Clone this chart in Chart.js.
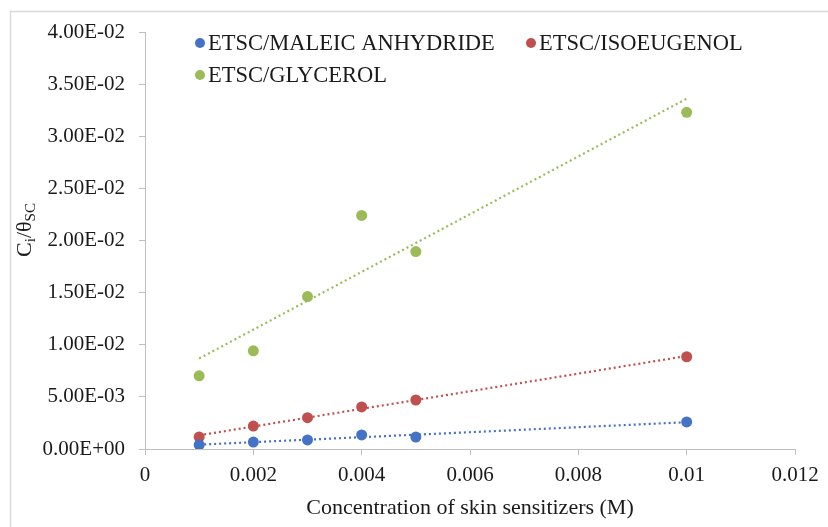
<!DOCTYPE html>
<html>
<head>
<meta charset="utf-8">
<script src="https://cdn.jsdelivr.net/npm/chart.js@4"></script>
<style>
  html, body { margin: 0; padding: 0; background: #fff; }
  #wrap { width: 828px; height: 527px; position: relative; }
</style>
</head>
<body>
<div id="wrap"><canvas id="c" width="828" height="527"></canvas></div>
<script>
// ---- data ----
const concentrations = [0.001, 0.002, 0.003, 0.004, 0.005, 0.01];
const maleicAnhydride = [0.00040, 0.00067, 0.00087, 0.00135, 0.00115, 0.00260];
const isoeugenol      = [0.00115, 0.00220, 0.00300, 0.00404, 0.00470, 0.00885];
const glycerol        = [0.00702, 0.00942, 0.01462, 0.02240, 0.01894, 0.03230];
const seriesNames = ['ETSC/MALEIC ANHYDRIDE', 'ETSC/ISOEUGENOL', 'ETSC/GLYCEROL'];
const xTicks = [0, 0.002, 0.004, 0.006, 0.008, 0.01, 0.012];
const yTicks = [0, 0.005, 0.01, 0.015, 0.02, 0.025, 0.03, 0.035, 0.04];
const xTitle = 'Concentration of skin sensitizers (M)';

const colors = ['#4472C4', '#C0504D', '#9BBB59'];
const FONT = '"Liberation Serif", "Times New Roman", serif';

function pts(ys) { return concentrations.map((x, i) => ({ x: x, y: ys[i] })); }
// Linear least-squares trendline (as Excel's linear trendline)
function trend(ys) {
  const n = concentrations.length;
  const mx = concentrations.reduce((a, b) => a + b, 0) / n;
  const my = ys.reduce((a, b) => a + b, 0) / n;
  let sxy = 0, sxx = 0;
  for (let i = 0; i < n; i++) {
    sxy += (concentrations[i] - mx) * (ys[i] - my);
    sxx += (concentrations[i] - mx) ** 2;
  }
  const b = sxy / sxx, a = my - b * mx;
  const x0 = Math.min(...concentrations), x1 = Math.max(...concentrations);
  return [{ x: x0, y: a + b * x0 }, { x: x1, y: a + b * x1 }];
}

const allSeries = [maleicAnhydride, isoeugenol, glycerol];
const datasets = [];
allSeries.forEach((ys, i) => {
  datasets.push({
    label: seriesNames[i], data: pts(ys), showLine: false,
    pointRadius: 5.5, pointHoverRadius: 5.5,
    backgroundColor: colors[i], borderColor: colors[i], borderWidth: 0, order: 0
  });
});
allSeries.forEach((ys, i) => {
  datasets.push({
    label: seriesNames[i] + ' trend', data: trend(ys), showLine: true,
    pointRadius: 0, borderColor: colors[i], borderWidth: 2.2,
    borderDash: [2, 3], fill: false, order: 1
  });
});

function fmtExp(v) {
  if (Math.abs(v) < 1e-12) return '0.00E+00';
  const s = v.toExponential(2).toUpperCase();
  const m = s.match(/^(-?[\d.]+)E([+-])(\d+)$/);
  return m[1] + 'E' + m[2] + m[3].padStart(2, '0');
}

const decor = {
  id: 'decor',
  beforeDraw(chart) {
    const ctx = chart.ctx;
    ctx.save();
    ctx.strokeStyle = '#d9d9d9';
    ctx.lineWidth = 1.5;
    ctx.beginPath();
    ctx.moveTo(10.5, 527);
    ctx.lineTo(10.5, 11.5);
    ctx.lineTo(828, 11.5);
    ctx.stroke();
    ctx.restore();
  },
  afterDraw(chart) {
    const ctx = chart.ctx;
    ctx.save();
    // legend
    const items = [
      { x: 200, y: 43 }, { x: 531, y: 43 }, { x: 200, y: 75 }
    ];
    ctx.font = '22.5px ' + FONT;
    ctx.textBaseline = 'middle';
    ctx.textAlign = 'left';
    items.forEach((p, i) => {
      ctx.fillStyle = colors[i];
      ctx.beginPath();
      ctx.arc(p.x, p.y, 5, 0, Math.PI * 2);
      ctx.fill();
      ctx.fillStyle = '#1a1a1a';
      ctx.fillText(seriesNames[i], p.x + 8, p.y + 1);
    });
    // y-axis title: C_i/θ_SC
    ctx.translate(25, 230);
    ctx.rotate(-Math.PI / 2);
    const big = '22px ' + FONT, small = '15px ' + FONT;
    const parts = [
      { t: 'C', f: big, dy: 0 }, { t: 'i', f: small, dy: 6 },
      { t: '/θ', f: big, dy: 0 }, { t: 'SC', f: small, dy: 6 }
    ];
    let w = 0;
    parts.forEach(p => { ctx.font = p.f; p.w = ctx.measureText(p.t).width; w += p.w; });
    let x = -w / 2;
    ctx.fillStyle = '#1a1a1a';
    ctx.textBaseline = 'middle';
    parts.forEach(p => { ctx.font = p.f; ctx.fillText(p.t, x, p.dy); x += p.w; });
    ctx.restore();
  }
};

new Chart(document.getElementById('c'), {
  type: 'scatter',
  data: { datasets },
  options: {
    responsive: false, animation: false,
    layout: { padding: { left: 0, top: 32, right: 33, bottom: 0 } },
    plugins: { legend: { display: false }, tooltip: { enabled: false } },
    scales: {
      x: {
        type: 'linear', min: 0, max: 0.012,
        afterFit(s) { s.height = 78; },
        afterBuildTicks(s) { s.ticks = xTicks.map(v => ({ value: v })); },
        grid: { drawOnChartArea: false, drawTicks: true, tickLength: 6, color: '#bfbfbf', lineWidth: 1 },
        border: { color: '#bfbfbf', width: 1 },
        ticks: { color: '#1a1a1a', font: { family: FONT, size: 21 }, padding: 8,
          maxRotation: 0, callback: v => String(Number(v.toFixed(3))) },
        title: { display: true, text: xTitle, color: '#1a1a1a',
          font: { family: FONT, size: 22 }, padding: { top: 2, bottom: 6 } }
      },
      y: {
        type: 'linear', min: 0, max: 0.04,
        afterFit(s) { s.width = 145; },
        afterBuildTicks(s) { s.ticks = yTicks.map(v => ({ value: v })); },
        grid: { drawOnChartArea: false, drawTicks: true, tickLength: 6, color: '#bfbfbf', lineWidth: 1 },
        border: { color: '#bfbfbf', width: 1 },
        ticks: { color: '#1a1a1a', font: { family: FONT, size: 21 }, padding: 14,
          callback: v => fmtExp(v) }
      }
    }
  },
  plugins: [decor]
});
</script>
</body>
</html>
